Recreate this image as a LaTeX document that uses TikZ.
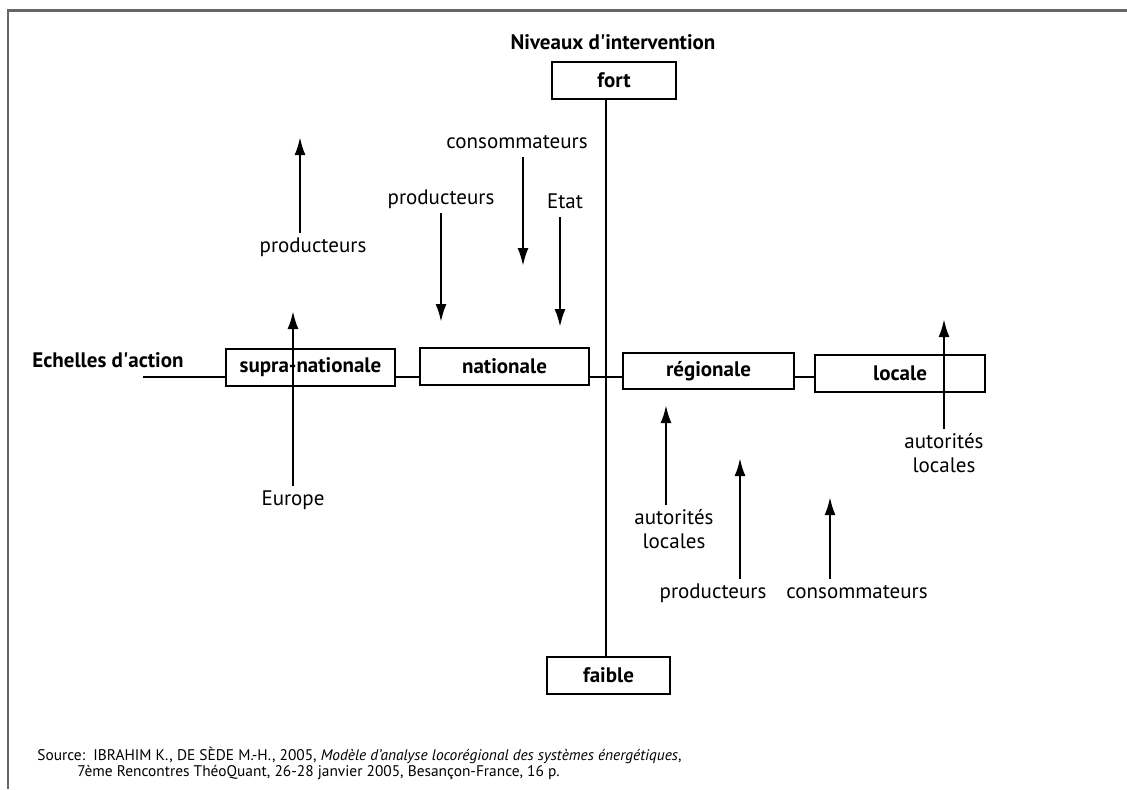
\documentclass[tikz,border=0pt]{standalone}
\usepackage{fontspec}
\setmainfont{PT Sans}
\usetikzlibrary{positioning,arrows.meta}
\tikzset{boite/.style={draw,line width=1pt,minimum height=18.5pt,inner sep=0pt,font=\fontsize{10.5}{12}\selectfont\bfseries}}
\tikzset{titre/.style={inner sep=0pt,font=\fontsize{10.5}{12}\selectfont\bfseries}}
\tikzset{etiq/.style={inner sep=2pt,text height=7.6pt,text depth=2.2pt,font=\fontsize{10.5}{12}\selectfont}}
\tikzset{etiqdeux/.style={inner sep=2pt,align=center,font=\fontsize{10.5}{12}\selectfont}}
\tikzset{fleche/.style={-{Latex[length=9pt,width=5.5pt]},line width=1.2pt}}
\tikzset{axe/.style={line width=1pt}}
\tikzset{cadre/.style={line width=1.1pt,black!60}}
\tikzset{source/.style={inner sep=0pt,anchor=west,font=\fontsize{7.7}{9}\selectfont}}

\begin{document}
\begin{tikzpicture}[x=0.5pt,y=-0.5pt]
	\useasboundingbox (0,0) rectangle (1127,789);

	%% cadre
	\draw[cadre] (8,789) -- (8,10.5) -- (1127,10.5);

	%% titres des axes
	\node[titre] (niveaux) at (613,42) {Niveaux d\textquotesingle intervention};
	\node[titre] (echelles) at (108,360) {Echelles d\textquotesingle action};

	%% boites
	\node[boite,minimum width=62pt] (fort) at (614,80.5) {fort};
	\node[boite,minimum width=61.5pt] (faible) at (608.5,675.5) {faible};
	\node[boite,minimum width=84.5pt] (supra) at (310.5,367) {supra-nationale};
	\node[boite,minimum width=84.5pt] (nat) at (504.5,366.5) {nationale};
	\node[boite,minimum width=85.5pt,minimum height=18pt] (reg) at (708.5,371) {régionale};
	\node[boite,minimum width=85pt] (loc) at (900,373.5) {locale};

	%% axes
	\coordinate (axeG) at (143,377);
	\coordinate (axeV) at (606,377);
	\draw[axe] (fort.south -| axeV) -- (faible.north -| axeV);
	\draw[axe] (axeG) -- (axeG -| supra.west);
	\draw[axe] (supra.east |- axeG) -- (nat.west |- axeG);
	\draw[axe] (nat.east |- axeG) -- (reg.west |- axeG);
	\draw[axe] (reg.east |- axeG) -- (loc.west |- axeG);

	%% acteurs au-dessus
	\node[etiq] (prodA) at (313,247) {producteurs};
	\coordinate (tProdA) at (300,137);
	\draw[fleche] (prodA.north -| tProdA) -- (tProdA);

	\node[etiq] (prodB) at (441,199) {producteurs};
	\coordinate (tProdB) at (441,322);
	\draw[fleche] (prodB.south -| tProdB) -- (tProdB);

	\node[etiq] (consA) at (517,143) {consommateurs};
	\coordinate (tConsA) at (523,266);
	\draw[fleche] (consA.south -| tConsA) -- (tConsA);

	\node[etiq] (etat) at (565,203) {Etat};
	\coordinate (tEtat) at (560,327);
	\draw[fleche] (etat.south -| tEtat) -- (tEtat);

	%% acteurs au-dessous
	\node[etiq] (europe) at (293,500) {Europe};
	\coordinate (tEurope) at (293,311);
	\draw[fleche] (europe.north -| tEurope) -- (tEurope);

	\node[etiqdeux] (autoR) at (674,529) {autorités\\locales};
	\coordinate (tAutoR) at (666,405);
	\draw[fleche] (autoR.north -| tAutoR) -- (tAutoR);

	\node[etiq] (prodC) at (713,593) {producteurs};
	\coordinate (tProdC) at (740,458);
	\draw[fleche] (prodC.north -| tProdC) -- (tProdC);

	\node[etiq] (consB) at (857,593) {consommateurs};
	\coordinate (tConsB) at (830,497);
	\draw[fleche] (consB.north -| tConsB) -- (tConsB);

	\node[etiqdeux] (autoL) at (944,453) {autorités\\locales};
	\coordinate (tAutoL) at (944,319);
	\draw[fleche] (autoL.north -| tAutoL) -- (tAutoL);

	%% source
	\node[source] (src1) at (37,755) {Source:\ \ IBRAHIM K., DE SÈDE M.-H., 2005, \textit{Modèle d’analyse locorégional des systèmes énergétiques},};
	\node[source] (src2) at (77,773) {7ème Rencontres ThéoQuant, 26-28 janvier 2005, Besançon-France, 16 p.};

\end{tikzpicture}
\end{document}
